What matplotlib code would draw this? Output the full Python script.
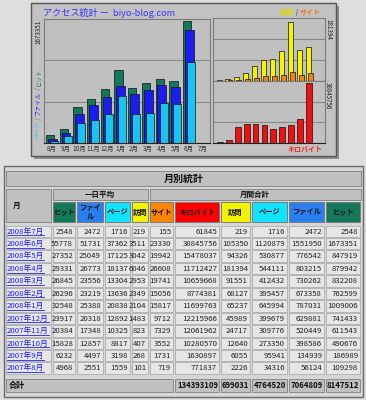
import matplotlib
matplotlib.use('Agg')
import numpy as np
from matplotlib import pyplot as plt
from matplotlib.patches import Rectangle

plt.rcParams['font.family'] = ['Noto Sans CJK JP', 'DejaVu Sans']

W, H = 366, 400

# table rows, newest first
row_months = ['2008年7月', '2008年6月', '2008年5月', '2008年4月', '2008年3月',
              '2008年2月', '2008年1月', '2007年12月', '2007年11月',
              '2007年10月', '2007年9月', '2007年8月']
chart_labels = ['8月', '9月', '10月', '11月', '12月', '1月', '2月', '3月',
                '4月', '5月', '6月', '7月']

# daily averages
avg_hits = [2548, 55778, 27352, 29331, 26845, 26296, 32548, 23917, 20384, 15828, 6232, 4968]
avg_files = [2472, 51731, 25049, 26773, 23556, 23219, 25388, 20318, 17348, 12857, 4497, 2551]
avg_pages = [1716, 37362, 17125, 18137, 13304, 13636, 20838, 12892, 10325, 8817, 3198, 1559]
avg_visits = [219, 3511, 3042, 6046, 2953, 2349, 2104, 1483, 823, 407, 268, 101]

# monthly totals
sites = [155, 23330, 19942, 26608, 19741, 15056, 15817, 9712, 7329, 3552, 1731, 719]
kbytes = [61845, 38845756, 15478037, 11712427, 10659668, 8774381, 11699763,
          12215966, 12061962, 10280570, 1630897, 771837]
visits = [219, 105350, 94326, 181394, 91551, 68127, 65237, 45989, 24717, 12640, 6055, 2226]
pages = [1716, 1120879, 530877, 544111, 412432, 395457, 645994, 399679, 309776,
         273350, 95941, 34316]
files = [2472, 1551950, 776542, 803215, 730262, 673358, 787031, 629881, 520449,
         398586, 134939, 56124]
hits = [2548, 1673351, 847919, 879942, 832208, 762599, 1009006, 741433, 611543,
        490676, 186989, 109298]
total_vals = ['134393109', '699031', '4764520', '7064809', '8147512']

head_labels = ['ヒット', 'ファイ\nル', 'ページ', '訪問', 'サイト',
               'キロバイト', '訪問', 'ページ', 'ファイル', 'ヒット']

C_HIT, C_FILE, C_PAGE = '#14785a', '#1c1cf0', '#18c4f4'
C_VISIT, C_SITE, C_KB = '#f4f400', '#f08018', '#f01010'
head_colors = [C_HIT, '#2a7ff0', '#10e4ff', C_VISIT, '#ff8400',
               '#ff0000', C_VISIT, '#10e4ff', '#2a7ff0', C_HIT]

fig = plt.figure(figsize=(W / 100, H / 100), dpi=100, facecolor='#dedede')
bg = fig.add_axes([0, 0, 1, 1])
bg.set_xlim(0, W)
bg.set_ylim(H, 0)
bg.axis('off')


def box(x0, y0, x1, y1, face, edge='none', lw=0.7, z=1):
    bg.add_patch(Rectangle((x0, y0), x1 - x0, y1 - y0, facecolor=face,
                           edgecolor=edge, lw=lw, zorder=z))


def px_axes(x0, y0, x1, y1):
    ax = fig.add_axes([x0 / W, 1 - y1 / H, (x1 - x0) / W, (y1 - y0) / H])
    ax.set_facecolor('#c0c0c0')
    for s in ax.spines.values():
        s.set_color('#7c7c7c')
        s.set_linewidth(0.8)
    ax.spines['bottom'].set_color('#202020')
    ax.tick_params(length=0, labelsize=4.6, colors='#303030', pad=1.5)
    ax.set_yticks([])
    return ax


def grid3(ax, top):
    ax.set_ylim(0, top)
    for f in (1 / 3, 2 / 3):
        ax.axhline(top * f, color='#8a8a8a', lw=0.8, zorder=0)


# chart panel with drop shadow
box(34, 6, 339, 159, '#8e8e8e')
box(31, 3, 336, 156, '#c2c2c2', '#555555', 1.0)

x = np.arange(len(chart_labels))
edge = dict(edgecolor='#101010', lw=0.5, align='edge', zorder=2)

# hits / files / pages
ax = px_axes(44, 19, 210, 143)
ax.bar(x - 0.44, hits[::-1], width=0.6, color=C_HIT, **edge)
ax.bar(x - 0.30, files[::-1], width=0.64, color=C_FILE, **edge)
ax.bar(x - 0.15, pages[::-1], width=0.58, color=C_PAGE, **edge)
ax.set_xlim(-0.58, 11.53)
grid3(ax, max(hits) * 1.02)
ax.set_xticks(x, chart_labels)

# visits / sites
ax2 = px_axes(213, 18, 325, 81)
ax2.bar(x - 0.35, visits[::-1], width=0.56, color=C_VISIT, **edge)
ax2.bar(x - 0.12, sites[::-1], width=0.56, color=C_SITE, **edge)
ax2.set_xlim(-0.75, 11.83)
grid3(ax2, max(visits) * 1.07)
ax2.set_xticks([])

# kbytes
ax3 = px_axes(213, 81, 325, 143)
ax3.bar(x - 0.3, kbytes[::-1], width=0.66, color=C_KB, **edge)
ax3.set_xlim(-0.75, 11.83)
grid3(ax3, max(kbytes) * 1.035)
ax3.set_xticks([])

bg.text(43, 12.5, 'アクセス統計 ー  biyo-blog.com', color='#3434ff', fontsize=6.6,
        va='center', ha='left')
bg.text(38, 20, str(max(hits)), rotation=90, ha='center', va='top', fontsize=4.5,
        color='#202020')
bg.text(328, 19, str(max(visits)), rotation=270, ha='center', va='top', fontsize=4.5,
        color='#202020')
bg.text(328, 82, str(max(kbytes)), rotation=270, ha='center', va='top', fontsize=4.5,
        color='#202020')

renderer = fig.canvas.get_renderer()


def run(x0, y0, pieces, size, vertical=False, weight='normal'):
    pos = y0 if vertical else x0
    for s, c in pieces:
        if vertical:
            t = bg.text(x0, pos, s, color=c, fontsize=size, rotation=90,
                        ha='center', va='bottom', weight=weight)
            pos -= t.get_window_extent(renderer).height
        else:
            t = bg.text(pos, y0, s, color=c, fontsize=size, ha='left',
                        va='center', weight=weight)
            pos += t.get_window_extent(renderer).width


run(38.5, 139, [('ページ', '#18c4f4'), (' / ', '#707070'), ('ファイル', '#2a2af0'),
                (' / ', '#707070'), ('ヒット', '#14785a')], 4.4, vertical=True)
run(280, 12, [('訪問', '#e0d800'), (' / ', '#606060'), ('サイト', '#f07818')], 5.0,
    weight='bold')
bg.text(322, 149, 'キロバイト', color='#f02020', fontsize=5.0, ha='right',
        va='center', weight='bold')

# table
col_x = [6, 52, 76, 104, 131, 149, 174, 220, 251, 288, 325, 361]
box(4, 166, 363, 397, '#d6d6d6', '#6a6a6a', 1.0)
box(6, 171, 361, 186, '#c0c0c0', '#8a8a8a')
bg.text(184, 178.5, '月別統計', ha='center', va='center', fontsize=7.2, weight='bold',
        color='#101010')
box(6, 189, 51, 222, '#c0c0c0', '#8a8a8a')
bg.text(17, 205, '月', ha='center', va='center', fontsize=5.6, weight='bold',
        color='#101010')
box(53, 189, 148, 200, '#c0c0c0', '#8a8a8a')
bg.text(100, 194.5, '一日平均', ha='center', va='center', fontsize=5.4, weight='bold',
        color='#101010')
box(150, 189, 361, 200, '#c0c0c0', '#8a8a8a')
bg.text(255, 194.5, '月間合計', ha='center', va='center', fontsize=5.4, weight='bold',
        color='#101010')
for j, (lab, c) in enumerate(zip(head_labels, head_colors)):
    box(col_x[j + 1] + 1, 202, col_x[j + 2] - 1, 222, c, '#7a7a7a')
    bg.text((col_x[j + 1] + col_x[j + 2]) / 2, 212, lab, ha='center', va='center',
            fontsize=5.2, weight='bold', color='#101010', linespacing=1.1)

links = []
for k, m in enumerate(row_months):
    top = 225.5 + 12.45 * k
    yc = top + 6
    vals = [avg_hits[k], avg_files[k], avg_pages[k], avg_visits[k], sites[k],
            kbytes[k], visits[k], pages[k], files[k], hits[k]]
    box(col_x[0], top, col_x[1] - 1, top + 11.4, '#e6e6e6', '#a4a4a4', 0.5)
    links.append(bg.text(col_x[0] + 1, yc, m, color='#2020ff', fontsize=5.6,
                         ha='left', va='center'))
    for j, v in enumerate(vals):
        box(col_x[j + 1] + 1, top, col_x[j + 2] - 1, top + 11.4, '#e6e6e6',
            '#a4a4a4', 0.5)
        bg.text(col_x[j + 2] - 3, yc, str(v), ha='right', va='center',
                fontsize=5.6, color='#202020')

box(col_x[0], 379, col_x[6] - 1, 392, '#c0c0c0', '#8a8a8a')
bg.text(9, 385.5, '合計', ha='left', va='center', fontsize=5.8, weight='bold',
        color='#101010')
for j, v in enumerate(total_vals):
    box(col_x[j + 6] + 1, 379, col_x[j + 7] - 1, 392, '#c0c0c0', '#8a8a8a')
    bg.text(col_x[j + 7] - 2, 385.5, v, ha='right', va='center', fontsize=5.6,
            weight='bold', color='#101010')

# underline the month links
inv = bg.transData.inverted()
for t in links:
    bb = t.get_window_extent(renderer)
    (lx0, ly), (lx1, _) = inv.transform([(bb.x0, bb.y0), (bb.x1, bb.y0)])
    bg.plot([lx0, lx1], [ly - 0.3, ly - 0.3], color='#2020ff', lw=0.6, zorder=3)

fig.savefig('out.png', dpi=100, facecolor=fig.get_facecolor())
